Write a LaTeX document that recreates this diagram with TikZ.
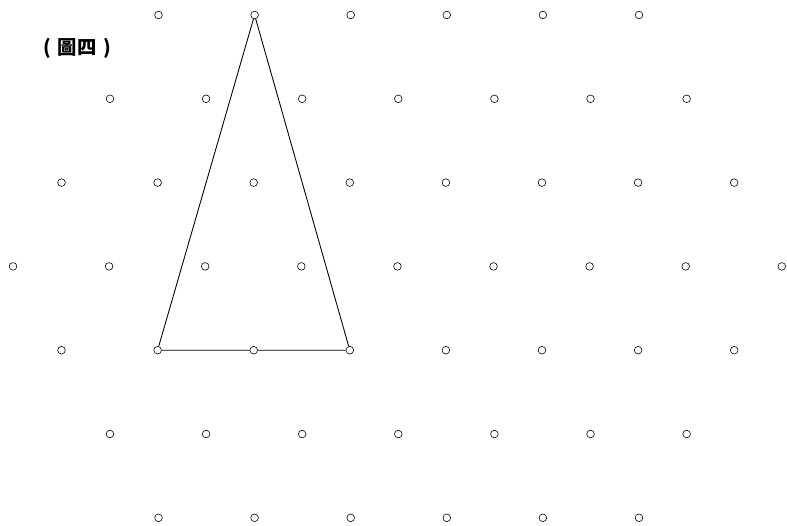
\documentclass[tikz,border=0pt]{standalone}
\usepackage{fontspec}
\newfontfamily\cjk{Noto Sans CJK TC}
\usepackage{tikz}
\usetikzlibrary{positioning}

\begin{document}
\begin{tikzpicture}[x=0.03cm, y=-0.03cm,
    gridpt/.style={circle, draw, line width=0.5pt, fill=white, inner sep=0pt, minimum size=0.23cm},
    edge/.style={line width=0.75pt}]
  \useasboundingbox (0,0) rectangle (787,525);
  % Lattice points, rows of 6 to 9
  \foreach \r in {0,...,6} {
    \pgfmathtruncatemacro{\off}{abs(\r-3)}
    \pgfmathtruncatemacro{\n}{8-\off}
    \foreach \c in {0,...,\n} {
      \node[gridpt] (d-\r-\c) at ({13+\off*48.5+\c*96.1},{15+\r*83.8}) {};
    }
  }
  % Triangle
  \draw[edge] (d-0-1) -- (d-4-1) -- (d-4-2) -- (d-4-3) -- (d-0-1);
  % Caption
  \node[font=\cjk\bfseries\fontsize{16.5}{18}\selectfont] (cap) at (77,48)
    {(\hspace{0.35em}圖四\hspace{0.35em})};
\end{tikzpicture}
\end{document}
